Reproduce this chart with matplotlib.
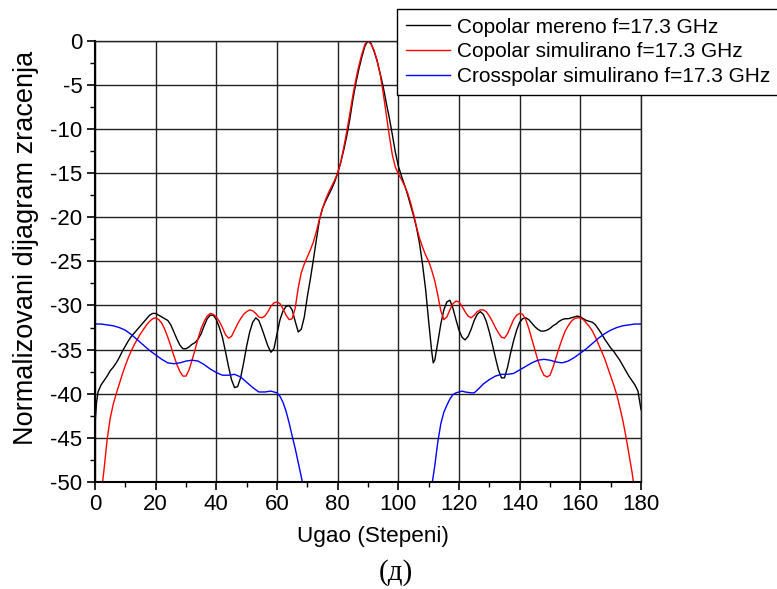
import matplotlib
matplotlib.use("Agg")
import matplotlib.pyplot as plt
import numpy as np
from matplotlib.ticker import MultipleLocator

plt.rcParams['font.family'] = ['Liberation Sans', 'DejaVu Sans']
plt.rcParams['axes.unicode_minus'] = False

# Copolar measured
x_meas = [0, 0.5, 1, 2, 3, 4, 5, 6, 7, 8, 9, 10, 11, 12, 13, 14, 15, 16, 17, 18, 19, 20,
          21, 22, 23, 24, 25, 26, 27, 28, 29, 30, 31, 32, 33, 34, 35, 36, 37, 38, 39, 40,
          41, 42, 43, 44, 45, 46, 47, 48, 49, 50, 51, 52, 53, 54, 55, 56, 57, 58, 59, 60,
          61, 62, 63, 64, 65, 66, 67, 68, 69, 70, 71, 72, 73, 74, 75, 76, 77, 78, 79, 80,
          81, 82, 83, 84, 85, 86, 87, 88, 89, 90, 91, 92, 93, 94, 95, 96, 97, 98, 99, 100,
          101, 102, 103, 104, 105, 106, 107, 108, 109, 110, 111, 111.5, 112, 113, 114, 115,
          116, 117, 118, 119, 120, 121, 122, 123, 124, 125, 126, 127, 128, 129, 130, 131,
          132, 133, 134, 135, 136, 137, 138, 139, 140, 141, 142, 143, 144, 145, 146, 147,
          148, 149, 150, 151, 152, 153, 154, 155, 156, 157, 158, 159, 160, 161, 162, 163,
          164, 165, 166, 167, 168, 169, 170, 171, 172, 173, 174, 175, 176, 177, 178, 179, 180]
y_meas = [-43.5, -41.0, -39.8, -39.0, -38.5, -38.0, -37.4, -37.0, -36.5, -35.9, -35.2, -34.6,
          -34.0, -33.5, -33.1, -32.7, -32.3, -31.9, -31.5, -31.1, -30.9, -30.9,
          -31.1, -31.3, -31.5, -31.7, -32.2, -33.0, -33.8, -34.5, -34.9, -34.9, -34.7, -34.4,
          -34.2, -33.8, -33.2, -32.3, -31.5, -31.1, -31.1, -31.6,
          -32.5, -33.6, -35.2, -36.9, -38.4, -39.3, -39.2, -38.2, -36.5, -34.6, -33.0, -31.9,
          -31.4, -31.7, -32.6, -33.6, -34.6, -35.3, -34.9, -33.2,
          -31.6, -30.6, -30.1, -30.0, -30.5, -31.8, -33.0, -32.7, -31.3, -29.0, -27.0, -24.8,
          -22.5, -20.3, -19.0, -18.2, -17.5, -16.8, -16.0, -15.0,
          -13.8, -12.4, -10.8, -8.9, -6.7, -4.8, -3.2, -1.8, -0.6, 0.0, -0.3, -1.2, -2.3, -3.7,
          -5.2, -7.0, -8.7, -10.6, -12.6, -14.2,
          -15.3, -16.3, -17.4, -18.6, -19.8, -21.2, -23.0, -25.4, -28.2, -31.8, -35.2, -36.5,
          -36.2, -34.2, -32.1, -30.5,
          -29.6, -29.4, -30.3, -31.6, -32.8, -33.6, -33.9, -33.5, -32.7, -31.7, -31.0, -30.7,
          -31.0, -31.8, -33.0, -34.4,
          -35.9, -37.3, -38.2, -38.2, -37.0, -35.4, -34.0, -32.8, -31.9, -31.5, -31.4, -31.6,
          -32.0, -32.4, -32.7, -32.9,
          -32.9, -32.8, -32.6, -32.3, -32.1, -31.8, -31.6, -31.5, -31.5, -31.4, -31.3, -31.2,
          -31.3, -31.5, -31.7, -31.8,
          -31.9, -32.2, -32.7, -33.2, -33.8, -34.3, -34.8, -35.2, -35.7, -36.2, -36.8, -37.4,
          -38.0, -38.5, -39.0, -39.7, -41.8]

# Copolar simulated
x_sim = [2.5, 3, 4, 5, 6, 7, 8, 9, 10, 11, 12, 13, 14, 15, 16, 17, 18, 19, 20,
         21, 22, 23, 24, 25, 26, 27, 28, 29, 30, 31, 32, 33, 34, 35, 36, 37, 38, 39, 40,
         41, 42, 43, 44, 45, 46, 47, 48, 49, 50, 51, 52, 53, 54, 55, 56, 57, 58, 59, 60,
         61, 62, 63, 64, 65, 66, 67, 68, 69, 70, 71, 72, 73, 74, 75, 76, 77, 78, 79, 80,
         81, 82, 83, 84, 85, 86, 87, 88, 89, 90, 91, 92, 93, 94, 95, 96, 97, 98, 99, 100,
         101, 102, 103, 104, 105, 106, 107, 108, 109, 110, 111, 112, 113, 114, 115, 116,
         117, 118, 119, 120, 121, 122, 123, 124, 125, 126, 127, 128, 129, 130, 131, 132,
         133, 134, 135, 136, 137, 138, 139, 140, 141, 142, 143, 144, 145, 146, 147, 148,
         149, 150, 151, 152, 153, 154, 155, 156, 157, 158, 159, 160, 161, 162, 163, 164,
         165, 166, 167, 168, 169, 170, 171, 172, 173, 174, 175, 176, 177, 177.5]
y_sim = [-50.0, -48.5, -45.2, -42.8, -41.2, -40.0, -38.9, -37.8, -36.8, -35.9, -35.1, -34.4,
         -33.8, -33.2, -32.7, -32.2, -31.8, -31.5, -31.4,
         -31.6, -32.0, -32.7, -33.6, -34.6, -35.7, -36.7, -37.5, -38.0, -38.0, -37.3, -36.2,
         -35.0, -33.7, -32.6, -31.8, -31.2, -30.9, -31.0, -31.3,
         -31.8, -32.5, -33.3, -33.7, -33.5, -32.8, -32.1, -31.5, -31.0, -30.7, -30.5, -30.6,
         -30.9, -31.3, -31.4, -31.2, -30.7, -30.1, -29.7, -29.6,
         -29.8, -30.4, -31.1, -31.6, -31.5, -30.3, -28.0, -26.3, -25.3, -24.5, -23.7, -22.8,
         -21.6, -20.2, -19.0, -18.0, -17.2, -16.5, -15.8, -15.0,
         -13.8, -12.1, -10.3, -8.3, -6.2, -4.4, -2.8, -1.5, -0.4, 0.0, -0.4, -1.1, -2.2, -3.8,
         -5.9, -8.3, -10.7, -12.9, -14.3, -15.1,
         -15.7, -16.4, -17.2, -18.3, -19.6, -21.1, -22.4, -23.4, -24.3, -25.0, -26.0, -27.2,
         -28.8, -30.6, -31.6, -31.3,
         -30.5, -29.8, -29.5, -29.6, -30.1, -30.7, -31.2, -31.4, -31.1, -30.7, -30.5, -30.5,
         -30.7, -31.2, -31.8, -32.5,
         -33.1, -33.6, -33.7, -33.2, -32.4, -31.6, -31.1, -30.9, -31.0, -31.6, -32.6, -33.8,
         -35.0, -36.2, -37.2, -37.9,
         -38.1, -37.9, -37.0, -35.9, -34.8, -33.8, -32.9, -32.3, -31.8, -31.5, -31.4, -31.4,
         -31.6, -32.0, -32.4, -32.9,
         -33.6, -34.4, -35.2, -36.0, -37.0, -38.0, -39.0, -40.1, -41.5, -43.0, -44.8, -46.8,
         -48.8, -50.0]

# Crosspolar simulated (NaN = below the plotted range)
x_cross = [0, 2, 4, 6, 8, 10, 12, 14, 16, 18, 20, 22, 24, 26, 28, 30, 32, 34, 36, 38, 40,
           42, 44, 46, 48, 50, 52, 54, 56, 58, 60, 61, 62, 63, 64, 65, 66, 67, 68, 69,
           90,
           111, 112, 113, 114, 115, 116, 117, 118, 119, 120, 121, 122, 124, 125, 126, 128,
           130, 132, 134, 136, 138, 140, 142, 144, 146, 148, 150, 152, 154, 156, 158, 160,
           162, 164, 166, 168, 170, 172, 174, 176, 178, 180]
y_cross = [-32.1, -32.1, -32.2, -32.3, -32.5, -32.8, -33.3, -33.9, -34.5, -35.1, -35.6, -36.1,
           -36.5, -36.6, -36.5, -36.3, -36.2, -36.3, -36.7, -37.2, -37.6,
           -37.9, -37.9, -37.8, -38.1, -38.7, -39.3, -39.8, -39.8, -39.7, -39.9, -40.3, -41.0,
           -42.0, -43.3, -44.8, -46.2, -47.8, -49.4, -51.0,
           np.nan,
           -50.5, -48.2, -45.5, -43.4, -42.1, -41.3, -40.6, -40.1, -39.9, -39.8, -39.7, -39.8,
           -39.9, -39.9, -39.6, -38.9,
           -38.4, -38.0, -37.8, -37.8, -37.7, -37.3, -36.9, -36.5, -36.2, -36.1, -36.2, -36.4,
           -36.5, -36.3, -35.9, -35.4,
           -34.9, -34.3, -33.7, -33.2, -32.8, -32.5, -32.3, -32.2, -32.1, -32.1]

labels = ["Copolar mereno f=17.3 GHz", "Copolar simulirano f=17.3 GHz",
          "Crosspolar simulirano f=17.3 GHz"]

fig = plt.figure(figsize=(7.77, 5.89), dpi=100)
ax = fig.add_axes([95/777, 1-482/589, 546/777, (482-40.7)/589])

ax.plot(x_meas, y_meas, color='black', lw=1.0, label=labels[0])
ax.plot(x_sim, y_sim, color='red', lw=1.0, label=labels[1])
ax.plot(x_cross, y_cross, color='blue', lw=1.0, label=labels[2])

ax.set_xlim(0, 180)
ax.set_ylim(-50, 0)
ax.xaxis.set_major_locator(MultipleLocator(20))
ax.xaxis.set_minor_locator(MultipleLocator(10))
ax.yaxis.set_major_locator(MultipleLocator(5))
ax.yaxis.set_minor_locator(MultipleLocator(2.5))
ax.grid(True, which='major', color='#222222', lw=1.0)
ax.tick_params(which='major', direction='out', length=6, width=1.2, labelsize=16,
               colors='black', pad=3)
ax.tick_params(which='minor', direction='out', length=3.5, width=1.0)
ax.tick_params(top=False, right=False, which='both')
for s in ['left', 'bottom']:
    ax.spines[s].set_linewidth(1.5)
for s in ['top', 'right']:
    ax.spines[s].set_linewidth(1.0)
    ax.spines[s].set_color('#222222')

ax.set_xlabel("Ugao (Stepeni)", fontsize=16.2, va='center')
ax.xaxis.set_label_coords((373-95)/546, (482-536.5)/441.3)
ax.set_ylabel("Normalizovani dijagram zracenja", fontsize=19.5, va='center')
ax.yaxis.set_label_coords((26-95)/546, (482-248)/441.3)

leg = fig.legend(loc='upper left', bbox_to_anchor=(397/777, 1-9/589),
                 bbox_transform=fig.transFigure, fontsize=15, frameon=True,
                 fancybox=False, framealpha=1, edgecolor='black', handlelength=2.1,
                 handletextpad=0.35, labelspacing=0.27, borderpad=0.42, borderaxespad=0)
leg.get_frame().set_linewidth(1.0)

fig.text(396/777, 1-573/589, "(д)", ha='center', va='center', fontsize=21,
         family=['Liberation Serif', 'DejaVu Serif'])

fig.savefig("out.png", dpi=100)
